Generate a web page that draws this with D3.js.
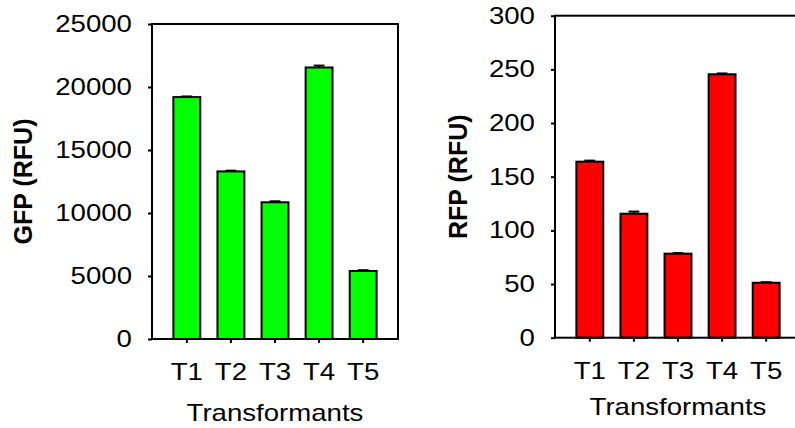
<!DOCTYPE html>
<html>
<head>
<meta charset="utf-8">
<script src="https://cdn.jsdelivr.net/npm/d3@7"></script>
<style>
  body { margin: 0; background: #fff; }
  svg { display: block; }
  text { font-family: "Liberation Sans", Arial, sans-serif; fill: #000; }
</style>
</head>
<body>
<svg id="chart"></svg>
<script>
// data
var transformants = ["T1", "T2", "T3", "T4", "T5"];
var gfpValues = [19200, 13300, 10850, 21550, 5400];
var gfpErrors = [50, 60, 80, 150, 60];
var rfpValues = [164, 115.5, 78.3, 245.4, 51.2];
var rfpErrors = [1, 2, 0.5, 0.8, 0.5];
var gfpTicks = [0, 5000, 10000, 15000, 20000, 25000];
var rfpTicks = [0, 50, 100, 150, 200, 250, 300];

var W = 795, H = 428;
var SX = 1.2; // tick text looks horizontally stretched in the original

var svg = d3.select("#chart").attr("width", W).attr("height", H);

function drawPanel(opts) {
    var x = d3.scaleBand()
        .domain(transformants)
        .range([opts.left, opts.right])
        .paddingInner(0.39)
        .paddingOuter(0.485);

    var y = d3.scaleLinear()
        .domain([0, opts.max])
        .range([opts.bottom, opts.top]);

    var g = svg.append("g");

    // bars
    g.selectAll("rect.bar")
        .data(opts.values)
        .enter().append("rect")
        .attr("class", "bar")
        .attr("x", function (d, i) { return x(transformants[i]); })
        .attr("y", function (d) { return y(d); })
        .attr("width", x.bandwidth())
        .attr("height", function (d) { return y(0) - y(d); })
        .attr("fill", opts.color)
        .attr("stroke", "#000")
        .attr("stroke-width", 2);

    // error bars (upper only)
    var capW = x.bandwidth() * 0.4;
    var eb = g.selectAll("g.err")
        .data(opts.values)
        .enter().append("g")
        .attr("class", "err");
    eb.append("line")
        .attr("x1", function (d, i) { return x(transformants[i]) + x.bandwidth() / 2; })
        .attr("x2", function (d, i) { return x(transformants[i]) + x.bandwidth() / 2; })
        .attr("y1", function (d) { return y(d); })
        .attr("y2", function (d, i) { return y(d + opts.errors[i]); })
        .attr("stroke", "#000").attr("stroke-width", 2);
    eb.append("line")
        .attr("x1", function (d, i) { return x(transformants[i]) + x.bandwidth() / 2 - capW / 2; })
        .attr("x2", function (d, i) { return x(transformants[i]) + x.bandwidth() / 2 + capW / 2; })
        .attr("y1", function (d, i) { return y(d + opts.errors[i]); })
        .attr("y2", function (d, i) { return y(d + opts.errors[i]); })
        .attr("stroke", "#000").attr("stroke-width", 2);

    // frame
    g.append("rect")
        .attr("x", opts.left)
        .attr("y", opts.top)
        .attr("width", opts.right - opts.left)
        .attr("height", opts.bottom - opts.top)
        .attr("fill", "none")
        .attr("stroke", "#000")
        .attr("stroke-width", 2);

    // y axis
    var yAxisG = g.append("g")
        .attr("transform", "translate(" + opts.left + ",0)")
        .call(d3.axisLeft(y).tickValues(opts.ticks).tickSize(4).tickPadding(12.7)
            .tickFormat(d3.format("d")));
    yAxisG.select(".domain").remove();
    yAxisG.selectAll("line").attr("stroke-width", 2);
    yAxisG.selectAll("text")
        .attr("font-size", 23)
        .attr("font-family", null)
        .attr("transform", "scale(" + SX + ",1)");

    // x axis
    var xAxisG = g.append("g")
        .attr("transform", "translate(0," + opts.bottom + ")")
        .call(d3.axisBottom(x).tickSize(4).tickPadding(20.7));
    xAxisG.select(".domain").remove();
    xAxisG.selectAll("line").attr("stroke-width", 2);
    xAxisG.selectAll("text")
        .attr("font-size", 23)
        .attr("font-family", null)
        .attr("transform", "scale(" + SX + ",1)");

    // axis titles
    g.append("text")
        .attr("transform", "translate(" + opts.yLabelX + "," + ((opts.top + opts.bottom) / 2) + ") rotate(-90)")
        .attr("text-anchor", "middle")
        .attr("font-size", 25)
        .attr("font-weight", "bold")
        .text(opts.yLabel);

    g.append("text")
        .attr("transform", "translate(" + ((opts.left + opts.right) / 2) + "," + opts.xLabelY + ") scale(" + SX + ",1)")
        .attr("text-anchor", "middle")
        .attr("font-size", 23)
        .text("Transformants");
}

drawPanel({
    left: 152, right: 398, top: 24, bottom: 339,
    max: 25000, ticks: gfpTicks,
    values: gfpValues, errors: gfpErrors,
    color: "#00ff00",
    yLabel: "GFP (RFU)", yLabelX: 31.5, xLabelY: 421
});

drawPanel({
    left: 555, right: 801, top: 15.7, bottom: 337.7,
    max: 300, ticks: rfpTicks,
    values: rfpValues, errors: rfpErrors,
    color: "#ff0000",
    yLabel: "RFP (RFU)", yLabelX: 466.5, xLabelY: 415
});
</script>
</body>
</html>
